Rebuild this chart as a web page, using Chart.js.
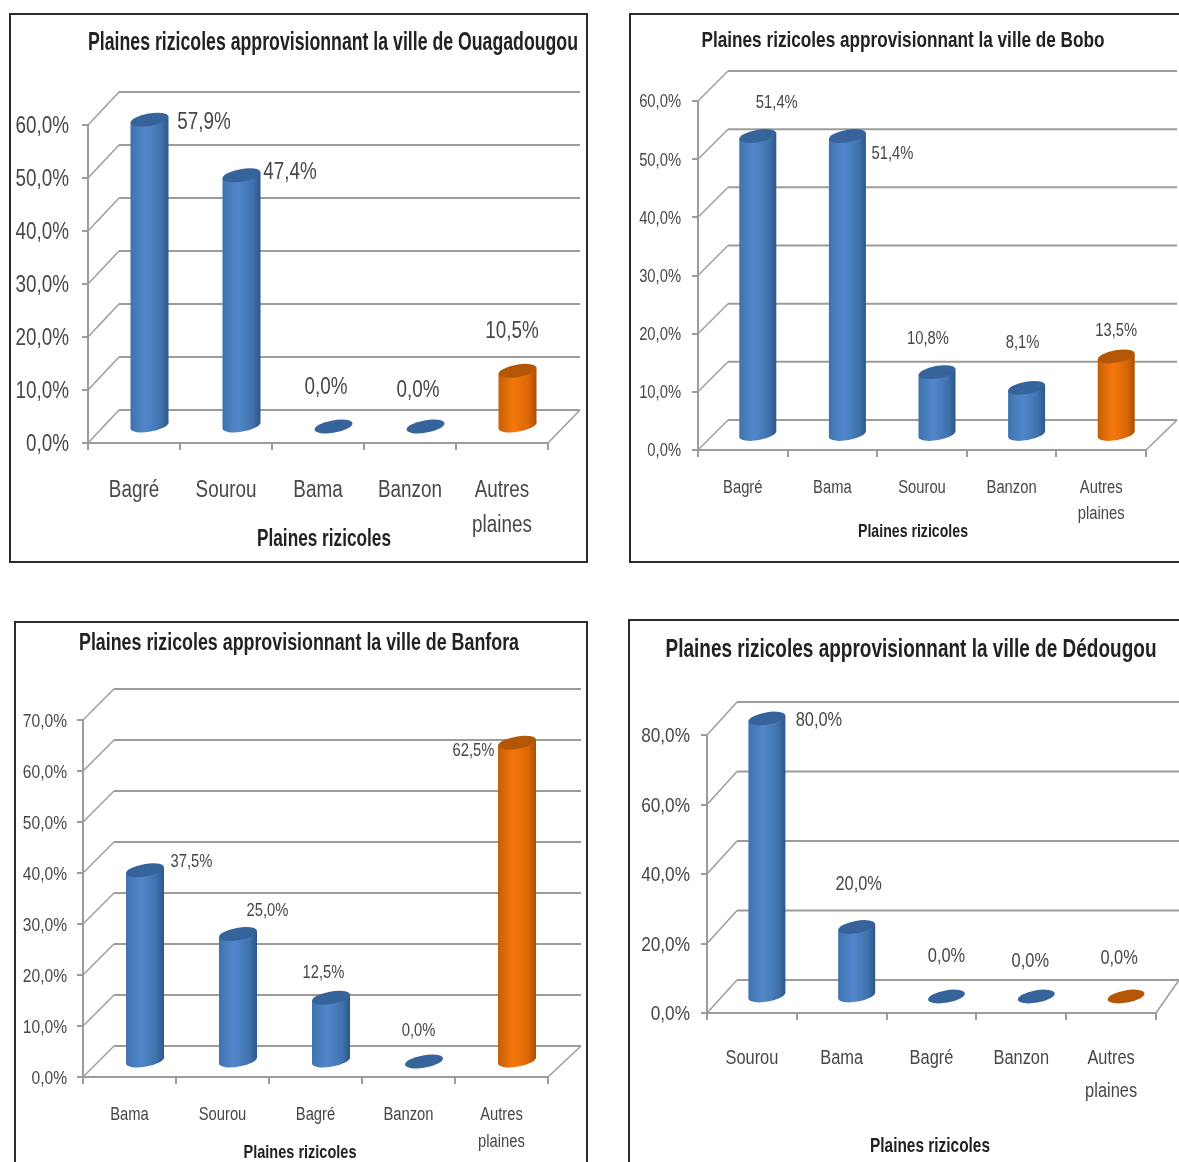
<!DOCTYPE html>
<html lang="fr">
<head>
<meta charset="utf-8">
<title>Plaines rizicoles</title>
<script src="https://cdn.jsdelivr.net/npm/chart.js@4"></script>
<style>
    html, body { margin: 0; padding: 0; background: #fff; width: 1179px; height: 1162px; overflow: hidden; }
    .panel { position: absolute; border: 2px solid #2b2b2b; box-sizing: border-box; background: #fff; }
    .panel canvas { display: block; }
</style>
</head>
<body>
<script>
// Values per city, in percent
const ouagaCategories = ["Bagré", "Sourou", "Bama", "Banzon", ["Autres", "plaines"]];
const ouagaValues = [57.9, 47.4, 0, 0, 10.5];

const boboCategories = ["Bagré", "Bama", "Sourou", "Banzon", ["Autres", "plaines"]];
const boboValues = [51.4, 51.4, 10.8, 8.1, 13.5];

const banforaCategories = ["Bama", "Sourou", "Bagré", "Banzon", ["Autres", "plaines"]];
const banforaValues = [37.5, 25.0, 12.5, 0, 62.5];

const dedougouCategories = ["Sourou", "Bama", "Bagré", "Banzon", ["Autres", "plaines"]];
const dedougouValues = [80.0, 20.0, 0, 0, 0];

const FONT = '"Liberation Sans", sans-serif';
const NARROW = 0.82; // no narrow face installed, text gets squeezed instead
const GRID = "#9c9c9c";
const TEXT = "#474747";

const BLUE = { stops: ["#3f73ae", "#5288cb", "#3f72ad", "#2c5788"], cap: "#35639a" };
const ORANGE = { stops: ["#c55f04", "#f5780c", "#d96605", "#a94f03"], cap: "#b35706" };

// Layout of each box, page coordinates
const panels = [
    {
        id: "ouaga", box: [9, 13, 579, 550],
        title: "Plaines rizicoles approvisionnant la ville de Ouagadougou",
        titleAt: [333, 42], titleWidth: 490, titleSize: 25,
        xTitleAt: [324, 538], xTitleWidth: 134, xTitleSize: 23,
        categories: ouagaCategories, values: ouagaValues,
        left: 88, right: 548, bottom: 443, top: 125, max: 60, step: 10,
        depth: [31, 33], backRight: 580, barWidth: 38,
        tickSize: 23, tickGap: 13, labelSize: 23, labelGap: 22, lineHeight: 35,
        labelOffsets: [[70, -15], [64, -21], [8, -57], [8, -54], [10, -57]]
    },
    {
        id: "bobo", box: [629, 13, 620, 550],
        title: "Plaines rizicoles approvisionnant la ville de Bobo",
        titleAt: [903, 39], titleWidth: 403, titleSize: 22,
        xTitleAt: [913, 530], xTitleWidth: 110, xTitleSize: 19,
        categories: boboCategories, values: boboValues,
        left: 698, right: 1146, bottom: 450, top: 101, max: 60, step: 10,
        depth: [30, 30], backRight: 1177, barWidth: 37,
        tickSize: 18, tickGap: 11, labelSize: 18, labelGap: 17, lineHeight: 26,
        labelOffsets: [[34, -49], [60, 2], [6, -50], [11, -61], [15, -42]]
    },
    {
        id: "banfora", box: [14, 621, 574, 600],
        title: "Plaines rizicoles approvisionnant la ville de Banfora",
        titleAt: [299, 642], titleWidth: 440, titleSize: 23,
        xTitleAt: [300, 1151], xTitleWidth: 113, xTitleSize: 19,
        categories: banforaCategories, values: banforaValues,
        left: 83, right: 548, bottom: 1077, top: 720, max: 70, step: 10,
        depth: [31, 31], backRight: 581, barWidth: 38,
        tickSize: 19, tickGap: 10, labelSize: 18, labelGap: 16, lineHeight: 27,
        labelOffsets: [[62, -25], [45, -40], [8, -42], [10, -47], [-28, -9]]
    },
    {
        id: "dedougou", box: [628, 619, 620, 600],
        title: "Plaines rizicoles approvisionnant la ville de Dédougou",
        titleAt: [911, 648], titleWidth: 491, titleSize: 26,
        xTitleAt: [930, 1145], xTitleWidth: 120, xTitleSize: 21,
        categories: dedougouCategories, values: dedougouValues,
        left: 707, right: 1156, bottom: 1013, top: 735, max: 80, step: 20,
        depth: [30, 33], backRight: 1179, barWidth: 37,
        tickSize: 21, tickGap: 11, labelSize: 20, labelGap: 20, lineHeight: 33,
        labelOffsets: [[67, -16], [17, -61], [15, -58], [9, -53], [8, -56]]
    }
];

function formatPercent(v) {
    return v.toFixed(1).replace(".", ",") + "%";
}

function paletteFor(i) {
    return i === 4 ? ORANGE : BLUE;
}

// Body shading runs left to right across one bar
function bodyGradient(ctx, x, width, palette) {
    let g = ctx.createLinearGradient(x - width / 2, 0, x + width / 2, 0);
    g.addColorStop(0, palette.stops[0]);
    g.addColorStop(0.4, palette.stops[1]);
    g.addColorStop(0.8, palette.stops[2]);
    g.addColorStop(1, palette.stops[3]);
    return g;
}

function tiltedEllipse(ctx, x, y, width, fill) {
    ctx.beginPath();
    ctx.ellipse(x, y, width / 2 + 0.2, 6.2, -10 * Math.PI / 180, 0, Math.PI * 2);
    ctx.fillStyle = fill;
    ctx.fill();
}

// Bars are drawn as upright cylinders: tilted end caps joined by a shaded body.
// A zero value leaves only the cap lying on the floor.
Chart.BarElement.prototype.draw = function (ctx) {
    const p = this.getProps(["x", "y", "base", "width"]);
    const fill = this.options.backgroundColor;
    const half = p.width / 2;
    const lean = 3;
    ctx.save();
    if (p.base - p.y > 0.5) {
        tiltedEllipse(ctx, p.x, p.base, p.width, fill);
        ctx.beginPath();
        ctx.moveTo(p.x - half, p.y + lean);
        ctx.lineTo(p.x - half, p.base + lean);
        ctx.lineTo(p.x + half, p.base - lean);
        ctx.lineTo(p.x + half, p.y - lean);
        ctx.closePath();
        ctx.fillStyle = fill;
        ctx.fill();
    }
    tiltedEllipse(ctx, p.x, p.y, p.width, this.options.borderColor);
    ctx.restore();
};

// Back wall, floor, value labels and captions
function wallsAndCaptions(p, originX, originY) {
    return {
        id: "wallsAndCaptions",
        beforeDatasetsDraw: function (chart) {
            const ctx = chart.ctx;
            const yScale = chart.scales.y;
            const area = chart.chartArea;
            const dx = p.depth[0], dy = p.depth[1];
            const backRight = p.backRight - originX;

            ctx.save();
            ctx.strokeStyle = GRID;
            yScale.ticks.forEach(function (t) {
                let y = yScale.getPixelForValue(t.value);
                ctx.lineWidth = 1.5;
                ctx.beginPath();
                ctx.moveTo(area.left, y);
                ctx.lineTo(area.left + dx, y - dy);
                ctx.stroke();
                ctx.lineWidth = 2;
                ctx.beginPath();
                ctx.moveTo(area.left + dx, y - dy);
                ctx.lineTo(backRight, y - dy);
                ctx.stroke();
            });
            // Right edge of the floor
            ctx.lineWidth = 1.5;
            ctx.beginPath();
            ctx.moveTo(area.right, area.bottom);
            ctx.lineTo(backRight, area.bottom - dy);
            ctx.stroke();
            ctx.restore();

            // Bars stand in the middle of the floor depth
            ctx.save();
            ctx.translate(dx / 2, -dy / 2);
        },
        afterDatasetsDraw: function (chart) {
            const ctx = chart.ctx;
            ctx.restore();

            ctx.save();
            ctx.textAlign = "center";
            ctx.textBaseline = "middle";
            ctx.fillStyle = TEXT;
            ctx.font = p.labelSize + "px " + FONT;
            chart.getDatasetMeta(0).data.forEach(function (bar, i) {
                let off = p.labelOffsets[i];
                ctx.fillText(formatPercent(p.values[i]), bar.x + off[0], bar.y + off[1]);
            });

            ctx.fillStyle = "#222";
            ctx.font = "bold " + p.titleSize + "px " + FONT;
            ctx.fillText(p.title, p.titleAt[0] - originX, p.titleAt[1] - originY, p.titleWidth);
            ctx.font = "bold " + p.xTitleSize + "px " + FONT;
            ctx.fillText("Plaines rizicoles", p.xTitleAt[0] - originX, p.xTitleAt[1] - originY, p.xTitleWidth);
            ctx.restore();
        }
    };
}

panels.forEach(function (p) {
    const border = 2;
    const originX = p.box[0] + border;
    const originY = p.box[1] + border;
    const canvasW = p.box[2] - border * 2;
    const canvasH = p.box[3] - border * 2;

    let div = document.createElement("div");
    div.className = "panel";
    div.style.left = p.box[0] + "px";
    div.style.top = p.box[1] + "px";
    div.style.width = p.box[2] + "px";
    div.style.height = p.box[3] + "px";
    let canvas = document.createElement("canvas");
    canvas.id = p.id;
    canvas.width = canvasW;
    canvas.height = canvasH;
    div.appendChild(canvas);
    document.body.appendChild(div);

    // Every string on this canvas goes through here, tick labels included
    let ctx = canvas.getContext("2d");
    let plainFillText = ctx.fillText.bind(ctx);
    ctx.fillText = function (text, x, y, maxWidth) {
        plainFillText(text, x, y + 1.5, maxWidth || ctx.measureText(text).width * NARROW);
    };

    new Chart(ctx, {
        type: "bar",
        data: {
            labels: p.categories,
            datasets: [{
                data: p.values,
                barThickness: p.barWidth,
                borderWidth: 0,
                clip: false,
                borderColor: function (c) { return paletteFor(c.dataIndex).cap; },
                backgroundColor: function (c) {
                    if (!c.chart.chartArea) return BLUE.stops[1];
                    let x = c.chart.scales.x.getPixelForValue(c.dataIndex);
                    return bodyGradient(c.chart.ctx, x, p.barWidth, paletteFor(c.dataIndex));
                }
            }]
        },
        plugins: [wallsAndCaptions(p, originX, originY)],
        options: {
            responsive: false,
            animation: false,
            layout: {
                padding: {
                    top: p.top - originY,
                    right: canvasW - (p.right - originX),
                    left: 0,
                    bottom: 0
                }
            },
            plugins: {
                legend: { display: false },
                tooltip: { enabled: false }
            },
            scales: {
                x: {
                    afterFit: function (s) { s.height = canvasH - (p.bottom - originY); },
                    border: { color: GRID, width: 2 },
                    grid: { drawOnChartArea: false, color: GRID, lineWidth: 2, tickLength: 7 },
                    ticks: {
                        color: TEXT,
                        maxRotation: 0,
                        autoSkip: false,
                        padding: p.labelGap,
                        font: { family: FONT, size: p.labelSize, lineHeight: p.lineHeight / p.labelSize }
                    }
                },
                y: {
                    min: 0,
                    max: p.max,
                    afterFit: function (s) { s.width = p.left - originX; },
                    border: { color: GRID, width: 2 },
                    grid: { drawOnChartArea: false, color: GRID, lineWidth: 2, tickLength: 6 },
                    ticks: {
                        stepSize: p.step,
                        color: TEXT,
                        padding: p.tickGap,
                        font: { family: FONT, size: p.tickSize },
                        callback: function (v) { return formatPercent(v); }
                    }
                }
            }
        }
    });
});
</script>
</body>
</html>
